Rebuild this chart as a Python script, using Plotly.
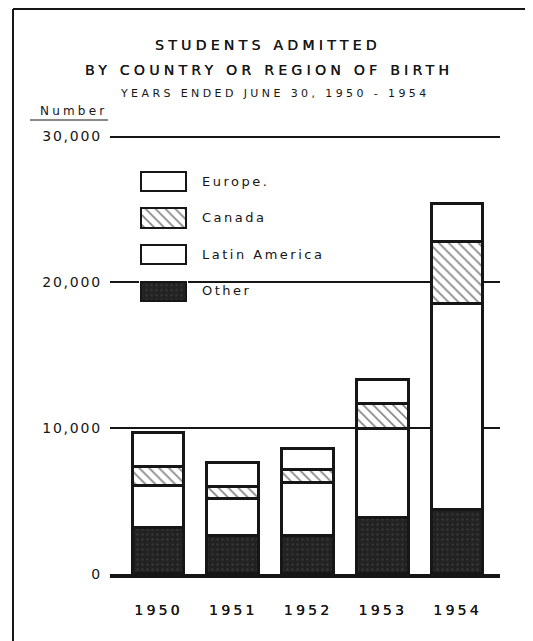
import plotly.graph_objects as go

# ---------------- data ----------------
years = ["1950", "1951", "1952", "1953", "1954"]
other = [3150, 2620, 2620, 3840, 4360]
latin_america = [2900, 2520, 3650, 6090, 14150]
canada = [1320, 820, 830, 1710, 4270]
europe = [2290, 1680, 1460, 1670, 2580]

series_names = ["Other", "Latin America", "Canada", "Europe"]
legend_order = ["Europe", "Canada", "Latin America", "Other"]      # top to bottom
legend_labels = ["Europe.", "Canada", "Latin America", "Other"]

ytick_vals = [0, 10000, 20000, 30000]
ytick_text = ["0", "10,000", "20,000", "30,000"]

title_lines = ["STUDENTS ADMITTED", "BY COUNTRY OR REGION OF BIRTH"]
subtitle = "YEARS ENDED JUNE 30, 1950 - 1954"
y_title = "Number"

# ---------------- styles ----------------
INK = "#161616"
FONT = "DejaVu Sans"
SHADOW = "0.3px 0 0 #161616"
# the page body has an 8px margin, so the figure starts at (8, 8)
W, H = 517, 633
L, R, T, B = 102, 25, 114, 67
PW, PH = W - L - R, H - T - B
PLOT_LEFT_PAGE = 8 + L
PLOT_BOTTOM_PAGE = 8 + H - B


def px(x):  # page x -> paper fraction
    return (x - PLOT_LEFT_PAGE) / PW


def py(y):  # page y -> paper fraction
    return (PLOT_BOTTOM_PAGE - y) / PH


def spaced(text, sp):
    return f'<span style="letter-spacing:{sp}px">{text}</span>'


def tfont(size, shadow=True):
    f = dict(family=FONT, size=size, color=INK)
    if shadow:
        f["shadow"] = SHADOW
    return f


styles = {
    "Other": dict(color="#222222",
                  pattern=dict(shape=".", fgcolor="#4a4a4a", size=5, solidity=0.2)),
    "Latin America": dict(color="#ffffff"),
    "Canada": dict(color="#ffffff",
                   pattern=dict(shape="\\", fgcolor="#0c0c0c", size=7, solidity=0.24)),
    "Europe": dict(color="#ffffff"),
}
values = {"Other": other, "Latin America": latin_america,
          "Canada": canada, "Europe": europe}

fig = go.Figure()

for name in series_names:
    fig.add_trace(go.Bar(
        x=years, y=values[name], name=name, width=0.69,
        marker=dict(**styles[name], line=dict(color=INK, width=2.7)),
        showlegend=False, xaxis="x", yaxis="y",
    ))

# legend swatches drawn as a small hidden subplot
for name in legend_order:
    fig.add_trace(go.Bar(
        x=[1], y=[name], orientation="h", width=0.52, base=0,
        marker=dict(**styles[name], line=dict(color=INK, width=2)),
        showlegend=False, xaxis="x2", yaxis="y2", hoverinfo="skip",
    ))

annotations = []
title_y = [45, 70]
title_x = [268, 269]
for t, yy, xx in zip(title_lines, title_y, title_x):
    annotations.append(dict(text=spaced(t, 4.3), x=px(xx), y=py(yy),
                            xref="paper", yref="paper", showarrow=False,
                            xanchor="center", yanchor="middle",
                            font=tfont(14)))
annotations.append(dict(text=spaced(subtitle, 3.4), x=px(275), y=py(94),
                        xref="paper", yref="paper", showarrow=False,
                        xanchor="center", yanchor="middle",
                        font=tfont(11, shadow=False)))
annotations.append(dict(text=spaced(y_title, 3.2), x=px(38), y=py(111),
                        xref="paper", yref="paper", showarrow=False,
                        xanchor="left", yanchor="middle",
                        font=tfont(12, shadow=False)))
for name, lab in zip(legend_order, legend_labels):
    annotations.append(dict(text=spaced(lab, 2.5), x=px(200), y=name,
                            xref="paper", yref="y2", showarrow=False,
                            xanchor="left", yanchor="middle",
                            font=tfont(13, shadow=False)))

shapes = [
    # frame
    dict(type="line", xref="paper", yref="paper", x0=px(13), x1=px(540),
         y0=py(9), y1=py(9), line=dict(color=INK, width=2)),
    dict(type="line", xref="paper", yref="paper", x0=px(13), x1=px(13),
         y0=py(9), y1=py(650), line=dict(color=INK, width=2)),
    # underline of y title
    dict(type="line", xref="paper", yref="paper", x0=px(30), x1=px(108),
         y0=py(120), y1=py(120), line=dict(color=INK, width=1.2)),
    # white area behind the key, interrupting the 20,000 line
    dict(type="rect", xref="paper", yref="paper", x0=px(128), x1=px(302),
         y0=py(292), y1=py(276), fillcolor="#ffffff", line=dict(width=0),
         layer="between"),
]

fig.update_layout(
    width=W, height=H, autosize=False,
    margin=dict(l=L, r=R, t=T, b=B, pad=0),
    paper_bgcolor="#ffffff", plot_bgcolor="#ffffff",
    barmode="stack", bargap=0,
    font=dict(family=FONT, color=INK),
    xaxis=dict(type="category", categoryarray=years, range=[-0.649, 4.568],
               showgrid=False, zeroline=False, showline=True, linewidth=3.5,
               linecolor=INK, ticks="", ticklabelstandoff=20,
               tickvals=years, ticktext=[spaced(y, 3.2) for y in years],
               tickfont=tfont(14)),
    yaxis=dict(range=[0, 31000], tickvals=ytick_vals,
               ticktext=[spaced(t, 1.8) for t in ytick_text],
               showgrid=True, gridcolor=INK, gridwidth=1.6, zeroline=False,
               showline=False, ticks="", ticklabelstandoff=7,
               tickfont=tfont(14, shadow=False)),
    xaxis2=dict(domain=[px(141 - 2), px(186 + 2)], range=[-0.04, 1.04],
                anchor="y2", visible=False, fixedrange=True),
    yaxis2=dict(domain=[py(309.3), py(162.7)], type="category",
                categoryarray=legend_order, range=[3.5, -0.5],
                anchor="x2", visible=False, fixedrange=True),
    annotations=annotations,
    shapes=shapes,
)

fig.write_html("out.html")
